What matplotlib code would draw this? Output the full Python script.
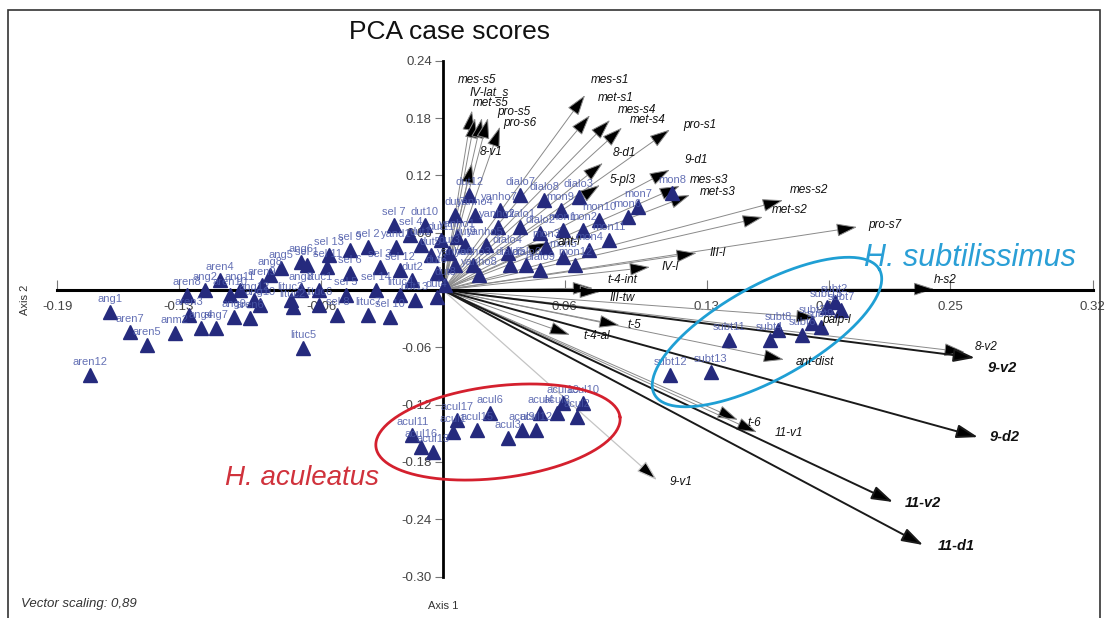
import numpy as np
import matplotlib
matplotlib.use('Agg')
import matplotlib.pyplot as plt
from matplotlib.patches import Rectangle

plt.rcParams['font.family'] = ['Liberation Sans', 'DejaVu Sans']

# case scores: other species (main cluster)
other_x = [-0.164, -0.154, -0.146, -0.132, -0.125, -0.119, -0.112, -0.110, -0.103, -0.095,
           -0.174, -0.069, -0.093, -0.074, -0.052, -0.037, -0.026, -0.003, -0.080, -0.067,
           -0.057, -0.046, -0.031, -0.021, -0.015, -0.037, -0.023, -0.100, -0.089, -0.070,
           -0.061, -0.048, -0.126, -0.117, -0.085, -0.011, -0.006, -0.003, 0.003, 0.007,
           0.015, 0.027, 0.032, 0.038, 0.041, 0.048, 0.051, 0.059, 0.059, 0.067,
           0.069, 0.072, 0.091, 0.096, 0.016, 0.006, 0.021, 0.033, 0.001, 0.113,
           0.006, 0.011, -0.009, -0.016, -0.024, -0.001,
           0.013, 0.038, 0.050, 0.028, 0.058, 0.077, 0.082, 0.018, 0.048, 0.065,
           -0.046, -0.056, -0.070, -0.075, -0.090, -0.105, -0.014, -0.021, -0.033, -0.061]
other_y = [-0.023, -0.044, -0.058, -0.045, -0.026, -0.040, -0.040, 0.010, -0.028, -0.029,
           -0.089, -0.061, -0.010, -0.018, -0.026, -0.026, -0.028, -0.007, 0.023, 0.026,
           0.024, 0.018, 0.024, 0.021, 0.010, 0.045, 0.045, 0.000, 0.005, 0.000,
           0.000, -0.005, -0.005, 0.000, 0.016, 0.047, 0.037, 0.018, 0.039, 0.055,
           0.026, 0.066, 0.039, 0.066, 0.026, 0.060, 0.045, 0.063, 0.035, 0.097,
           0.063, 0.042, 0.076, 0.087, 0.079, 0.079, 0.047, 0.026, 0.005, 0.102,
           0.026, 0.047, 0.068, 0.058, 0.068, 0.052,
           0.099, 0.099, 0.094, 0.084, 0.084, 0.073, 0.052, 0.016, 0.021, 0.026,
           0.042, 0.037, 0.029, -0.010, -0.016, -0.005, -0.010, -0.005, 0.000, -0.016]
other_lab = ['ang1', 'aren7', 'aren5', 'anm2', 'aren3', 'ang4', 'ang7', 'aren4', 'ang9', 'aren6',
             'aren12', 'lituc5', 'ang12', 'lituc2', 'sel 8', 'lituc7', 'sel 10', 'dut4', 'ang5', 'sel 1',
             'sel 11', 'sel 6', 'sel 3', 'sel 12', 'dut2', 'sel 2', 'yand1', 'ang11', 'aren9', 'ang3',
             'lituc1', 'sel 5', 'aren8', 'ang2', 'ang8', 'dut1', 'dut5', 'dut6', 'dut3', 'yanho1',
             'yanho3', 'yanho2', 'dialo4', 'dialo1', 'dialo6', 'dialo2', 'mon3', 'mon1', 'mon5', 'dialo3',
             'mon2', 'mon4', 'mon6', 'mon7', 'yanho4', 'dut7', 'yanho5', 'dialo5', 'dut8', 'mon8',
             'yanho6', 'dut9', 'dut10', 'sel 4', 'sel 7', 'dut11',
             'dut12', 'dialo7', 'dialo8', 'yanho7', 'mon9', 'mon10', 'mon11', 'yanho8', 'dialo9', 'mon12',
             'sel 9', 'sel 13', 'ang6', 'lituc3', 'ang10', 'aren10', 'dut13', 'lituc4', 'sel 14', 'lituc6']

# H. aculeatus
acul_x = [-0.015, -0.011, -0.005, 0.005, 0.007, 0.017, 0.023, 0.032, 0.039, 0.046,
          0.048, 0.056, 0.059, 0.066, 0.069]
acul_y = [-0.152, -0.164, -0.170, -0.149, -0.136, -0.147, -0.129, -0.155, -0.147, -0.147,
          -0.129, -0.129, -0.118, -0.133, -0.118]
acul_lab = ['acul11', 'acul16', 'acul18', 'acul1', 'acul17', 'acul15', 'acul6', 'acul3', 'acul9', 'acul12',
            'acul4', 'acul8', 'acul19', 'acul2', 'acul10']

# H. subtilissimus
subt_x = [0.141, 0.161, 0.165, 0.177, 0.182, 0.186, 0.189, 0.193, 0.196, 0.112, 0.132]
subt_y = [-0.052, -0.052, -0.042, -0.047, -0.035, -0.039, -0.018, -0.013, -0.021, -0.089, -0.086]
subt_lab = ['subt11', 'subt4', 'subt8', 'subt6', 'subt3', 'subt9', 'subt15', 'subt2', 'subt7', 'subt12', 'subt13']

# variable vectors (already scaled)
vec_lab = ['mes-s5', 'IV-lat_s', 'met-s5', 'pro-s5', 'pro-s6', '8-v1', 'mes-s1', 'met-s1', 'mes-s4', 'met-s4',
           'pro-s1', '8-d1', '9-d1', '5-pl3', 'mes-s3', 'met-s3', 'mes-s2', 'met-s2', 'pro-s7', 'ant-l',
           'III-l', 'IV-l', 't-4-int', 'III-tw', 'h-s2', 'palp-l', '8-v2', '9-v2', 'ant-dist', 't-5',
           't-4-al', 't-6', '11-v1', '9-d2', '9-v1', '11-v2', '11-d1']
vec_x = [0.0143, 0.0158, 0.0192, 0.0222, 0.0281, 0.0143, 0.0700, 0.0724, 0.0823, 0.0882,
         0.1118, 0.0788, 0.1118, 0.0773, 0.1167, 0.1217, 0.1675, 0.1576, 0.2040, 0.0517,
         0.1250, 0.1020, 0.0739, 0.0773, 0.2420, 0.1840, 0.2570, 0.2620, 0.1680, 0.0870,
         0.0626, 0.1453, 0.1547, 0.2635, 0.1054, 0.2217, 0.2365]
vec_y = [0.188, 0.180, 0.180, 0.180, 0.171, 0.133, 0.204, 0.183, 0.178, 0.170,
         0.168, 0.133, 0.126, 0.110, 0.109, 0.0995, 0.094, 0.0764, 0.066, 0.050,
         0.0387, 0.024, 0.002, -0.002, 0.001, -0.029, -0.065, -0.071, -0.073, -0.037,
         -0.047, -0.136, -0.149, -0.154, -0.199, -0.222, -0.267]
bold_vecs = ['9-v2', '9-d2', '11-v2', '11-d1']
faint_vecs = ['9-v1']

# label offsets in pixels from the arrow head
lab_off = {'mes-s5': (-14, 30), 'IV-lat_s': (-5, 26), 'met-s5': (-9, 15), 'pro-s5': (9, 6),
           'pro-s6': (3, 4), '8-v1': (8, 11), 'mes-s1': (6, 15), 'met-s1': (8, 17),
           'mes-s4': (8, 10), 'met-s4': (8, 8), 'pro-s1': (13, 5), '8-d1': (10, 10),
           '9-d1': (15, 10), '5-pl3': (10, 5), 'mes-s3': (10, 6), 'met-s3': (10, 3),
           'mes-s2': (7, 10), 'met-s2': (9, 7), 'pro-s7': (11, 2), 'ant-l': (10, 0),
           'III-l': (13, 0), 'IV-l': (12, 0), 't-4-int': (14, 8), 'III-tw': (10, -6),
           'h-s2': (0, 9), 'palp-l': (6, -2), '8-v2': (10, 5), '9-v2': (13, -10),
           'ant-dist': (12, -2), 't-5': (8, 0), 't-4-al': (13, -1), 't-6': (10, -3),
           '11-v1': (18, -1), '9-d2': (12, 0), '9-v1': (13, -2), '11-v2': (12, -1), '11-d1': (15, -1)}

fig = plt.figure(figsize=(11.07, 6.18), dpi=100)
ax = fig.add_axes([0.0361, 0.0291, 0.9575, 0.9385])
ax.set_xlim(-0.1985, 0.3236)
ax.set_ylim(-0.3246, 0.2827)
ax.patch.set_alpha(0)

# axes through the origin
for s in ['top', 'right']:
    ax.spines[s].set_visible(False)
ax.spines['left'].set_position(('data', 0))
ax.spines['bottom'].set_position(('data', 0))
ax.spines['left'].set_bounds(-0.30, 0.24)
ax.spines['bottom'].set_bounds(-0.19, 0.32)
ax.spines['left'].set_linewidth(2)
ax.spines['bottom'].set_linewidth(2.2)

ax.set_xticks([-0.19, -0.13, -0.06, 0.06, 0.13, 0.19, 0.25, 0.32])
ax.set_xticklabels(['-0.19', '-0.13', '-0.06', '0.06', '0.13', '0.19', '0.25', '0.32'])
ax.set_yticks([0.24, 0.18, 0.12, 0.06, -0.06, -0.12, -0.18, -0.24, -0.30])
ax.set_yticklabels(['0.24', '0.18', '0.12', '0.06', '-0.06', '-0.12', '-0.18', '-0.24', '-0.30'])
ax.tick_params(axis='x', direction='in', length=7, width=0.8, color='#777777',
               labelsize=9.5, labelcolor='#444444', pad=8)
ax.tick_params(axis='y', direction='out', length=6, width=0.8, color='#777777',
               labelsize=9.5, labelcolor='#444444', pad=2)

# vectors
for lab, vx, vy in zip(vec_lab, vec_x, vec_y):
    if lab in bold_vecs:
        ec, lw = '#1a1a1a', 1.4
    elif lab in faint_vecs:
        ec, lw = '#c4c4c4', 0.9
    else:
        ec, lw = '#8a8a8a', 0.7
    ax.annotate('', xy=(vx, vy), xytext=(0, 0), zorder=2,
                arrowprops=dict(arrowstyle='-|>,head_length=1.0,head_width=0.32',
                                mutation_scale=13, ec=ec, fc='black', lw=lw,
                                shrinkA=0, shrinkB=0))
    dx, dy = lab_off[lab]
    if lab in bold_vecs:
        ax.annotate(lab, (vx, vy), xytext=(dx, dy), textcoords='offset pixels',
                    ha='left', va='center', fontsize=10.5, style='italic',
                    weight='bold', color='#111111', zorder=6)
    else:
        ax.annotate(lab, (vx, vy), xytext=(dx, dy), textcoords='offset pixels',
                    ha='left', va='center', fontsize=8.5, style='italic',
                    color='#111111', zorder=6)

# case scores
tri_col = '#252a7d'
lab_col = '#4a58a8'
for xs, ys, labs in [(other_x, other_y, other_lab), (acul_x, acul_y, acul_lab), (subt_x, subt_y, subt_lab)]:
    ax.plot(xs, ys, '^', ms=10, color=tri_col, mec=tri_col, zorder=3, ls='none')
    for x, y, l in zip(xs, ys, labs):
        ax.annotate(l, (x, y), xytext=(0, 13), textcoords='offset pixels', ha='center',
                    va='center', fontsize=8, color=lab_col, alpha=0.85, zorder=4)

# group ellipses
t = np.linspace(0, 2 * np.pi, 200)
ax.plot(0.1596 + 0.0554 * np.cos(t) + 0.0112 * np.sin(t),
        -0.044 + 0.0654 * np.cos(t) - 0.043 * np.sin(t),
        color='#1f9fd4', lw=2, zorder=5)
ax.plot(0.0271 + 0.0601 * np.cos(t) + 0.0028 * np.sin(t),
        -0.1487 + 0.0157 * np.cos(t) - 0.0478 * np.sin(t),
        color='#d4202e', lw=2, zorder=5)

ax.text(0.2596, 0.0335, 'H. subtilissimus', fontsize=22, style='italic',
        color='#2a9fd6', ha='center', va='center', zorder=6)
ax.text(-0.0695, -0.197, 'H. aculeatus', fontsize=20, style='italic',
        color='#d0323c', ha='center', va='center', zorder=6)

fig.text(0.4065, 0.948, 'PCA case scores', fontsize=19, ha='center', va='center', color='#111111')
fig.text(0.0226, 0.515, 'Axis 2', fontsize=8, rotation=90, ha='center', va='center', color='#333333')
fig.text(0.4002, 0.019, 'Axis 1', fontsize=8, ha='center', va='center', color='#333333')
fig.text(0.019, 0.023, 'Vector scaling: 0,89', fontsize=9.5, style='italic', ha='left',
         va='center', color='#333333')

fig.patches.append(Rectangle((0.0072, -0.01), 0.9865, 0.9938, transform=fig.transFigure,
                             fill=False, ec='#333333', lw=1.2))

fig.savefig('out.png', dpi=100, facecolor='white')
